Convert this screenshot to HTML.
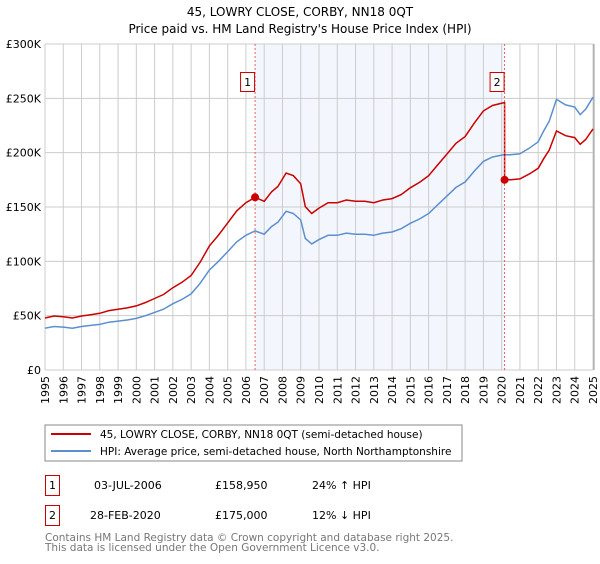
<!DOCTYPE html>
<html><head><meta charset="utf-8"><style>
body{margin:0;background:#fff;font-family:"DejaVu Sans","Liberation Sans",sans-serif;}
svg text{font-family:"DejaVu Sans","Liberation Sans",sans-serif;}
</style></head><body>
<svg id="chart" width="600" height="560" xmlns="http://www.w3.org/2000/svg">
<text x="300" y="16" text-anchor="middle" font-size="12" fill="#000">45, LOWRY CLOSE, CORBY, NN18 0QT</text>
<text x="300" y="33" text-anchor="middle" font-size="12" fill="#000">Price paid vs. HM Land Registry's House Price Index (HPI)</text>
<g id="grid"></g><g id="series"></g><g id="axes"></g>
<rect x="45" y="425" width="417" height="36" fill="#fff" stroke="#888"/>
<line x1="51" y1="434" x2="91" y2="434" stroke="#cc0000" stroke-width="2"/>
<text x="100" y="438" font-size="10.5">45, LOWRY CLOSE, CORBY, NN18 0QT (semi-detached house)</text>
<line x1="51" y1="451" x2="91" y2="451" stroke="#5b8fd0" stroke-width="2"/>
<text x="100" y="455" font-size="10.5">HPI: Average price, semi-detached house, North Northamptonshire</text>
<rect x="45.5" y="475.5" width="14" height="20" fill="#fff" stroke="#cc0000"/>
<text x="52.5" y="489" font-size="11" text-anchor="middle">1</text>
<text x="94" y="489" font-size="11">03-JUL-2006</text>
<text x="215" y="489" font-size="11">£158,950</text>
<text x="312" y="489" font-size="11">24% ↑ HPI</text>
<rect x="45.5" y="505.5" width="14" height="20" fill="#fff" stroke="#cc0000"/>
<text x="52.5" y="519" font-size="11" text-anchor="middle">2</text>
<text x="90" y="519" font-size="11">28-FEB-2020</text>
<text x="215" y="519" font-size="11">£175,000</text>
<text x="312" y="519" font-size="11">12% ↓ HPI</text>
<text x="45" y="541" font-size="10.5" fill="#777">Contains HM Land Registry data © Crown copyright and database right 2025.</text>
<text x="45" y="551" font-size="10.5" fill="#777">This data is licensed under the Open Government Licence v3.0.</text>
</svg>
<script>
const hpiYears=[1995,1995.5,1996,1996.5,1997,1997.5,1998,1998.5,1999,1999.5,2000,2000.5,2001,2001.5,2002,2002.5,2003,2003.5,2004,2004.5,2005,2005.5,2006,2006.5,2007,2007.4,2007.75,2008.2,2008.6,2009.0,2009.25,2009.6,2010,2010.5,2011,2011.5,2012,2012.5,2013,2013.5,2014,2014.5,2015,2015.5,2016,2016.5,2017,2017.5,2018,2018.5,2019,2019.5,2020.1,2020.5,2021,2021.5,2022,2022.3,2022.6,2023,2023.5,2024,2024.3,2024.6,2025];
const hpiValues=[38.5,40,39.5,38.5,40,41,42,44,45,46,47.5,50,53,56,61,65,70,80,92,100,109,118,124,128,125,132,136,146,144,138,121,116,120,124,124,126,125,125,124,126,127,130,135,139,144,152,160,168,173,183,192,196,198,198,199,204,210,220,229,249,244,242,235,240,251];
const saleDates=[2006.5,2020.16];
const salePrices=[158.95,175.0];
const yTicks=[0,50,100,150,200,250,300];
const yTickLabels=["£0","£50K","£100K","£150K","£200K","£250K","£300K"];
const xTicks=[1995,1996,1997,1998,1999,2000,2001,2002,2003,2004,2005,2006,2007,2008,2009,2010,2011,2012,2013,2014,2015,2016,2017,2018,2019,2020,2021,2022,2023,2024,2025];

const X0=45,X1=593,Y0=370,Y1=44;
const xs=v=>X0+(v-1995)/30*(X1-X0);
const ys=v=>Y0-v/300*(Y0-Y1);
const NS="http://www.w3.org/2000/svg";
function mk(tag,attrs,parent){const e=document.createElementNS(NS,tag);for(const k in attrs)e.setAttribute(k,attrs[k]);parent.appendChild(e);return e;}
function hpiAt(t){for(let i=0;i<hpiYears.length-1;i++){if(t<=hpiYears[i+1]){const f=(t-hpiYears[i])/(hpiYears[i+1]-hpiYears[i]);return hpiValues[i]+f*(hpiValues[i+1]-hpiValues[i]);}}return hpiValues[hpiValues.length-1];}
const grid=document.getElementById('grid'),series=document.getElementById('series'),axes=document.getElementById('axes');

const shade=mk('rect',{x:xs(saleDates[0]),y:Y1,width:xs(saleDates[1])-xs(saleDates[0]),height:Y0-Y1,fill:'#eef3fc',opacity:0.7},grid);


xTicks.forEach(t=>{
  const l=mk('line',{x1:xs(t),x2:xs(t),y1:Y1,y2:Y0,stroke:'#cccccc','stroke-width':1},grid);
  
  
  const tx=mk('text',{x:0,y:0,'font-size':11,'text-anchor':'end',transform:`translate(${xs(t)+4},${Y0+6}) rotate(-90)`},axes);
  tx.textContent=String(t);
  
  
});
yTicks.forEach((t,i)=>{
  const l=mk('line',{x1:X0,x2:X1,y1:ys(t),y2:ys(t),stroke:'#cccccc','stroke-width':1},grid);
  
  
  const tx=mk('text',{x:X0-4,y:ys(t)+4,'font-size':11,'text-anchor':'end'},axes);
  tx.textContent=yTickLabels[i];
  
  
});
const rl=mk('line',{x1:X1+1,x2:X1+1,y1:Y1,y2:Y0,stroke:'#999'},grid);



const hp=mk('path',{d:hpiYears.map((t,i)=>(i?'L':'M')+xs(t).toFixed(1)+','+ys(hpiValues[i]).toFixed(1)).join(''),fill:'none',stroke:'#5b8fd0','stroke-width':1.5},series);



const f1=salePrices[0]/hpiAt(saleDates[0]),f2=salePrices[1]/hpiAt(saleDates[1]);
let pts=[];
hpiYears.forEach((t,i)=>{if(t<saleDates[1])pts.push([t,hpiValues[i]*f1]);});
pts.push([saleDates[1],hpiAt(saleDates[1])*f1]);
pts.push([saleDates[1],salePrices[1]]);
hpiYears.forEach((t,i)=>{if(t>saleDates[1])pts.push([t,hpiValues[i]*f2]);});
const pp=mk('path',{d:pts.map((p,i)=>(i?'L':'M')+xs(p[0]).toFixed(1)+','+ys(p[1]).toFixed(1)).join(''),fill:'none',stroke:'#cc0000','stroke-width':1.5},series);



saleDates.forEach((d,i)=>{
  const v=mk('line',{x1:xs(d),x2:xs(d),y1:Y1,y2:Y0,stroke:'#e06060','stroke-width':1,'stroke-dasharray':'2,2'},series);
  
  
  const c=mk('circle',{cx:xs(d),cy:ys(salePrices[i]),r:4,fill:'#cc0000'},series);
  
  
  const b=mk('rect',{x:xs(d)-14.5,y:72.5,width:14,height:19,fill:'#fff',stroke:'#cc0000'},series);
  
  
  const bt=mk('text',{x:xs(d)-7.5,y:86,'font-size':11,'text-anchor':'middle'},series);
  bt.textContent=String(i+1);
  
  
});
</script>
</body></html>
